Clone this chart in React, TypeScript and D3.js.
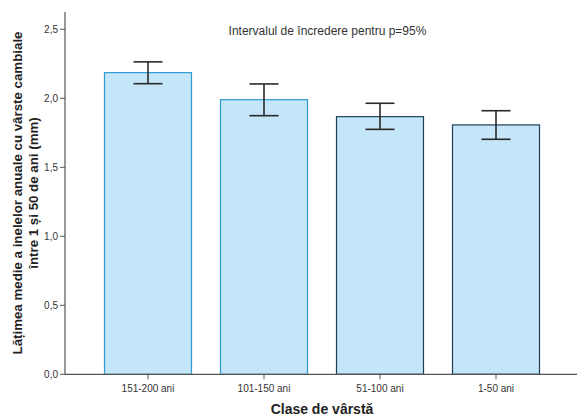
import React from "react";
import * as d3 from "d3";

const categories = ["151-200 ani", "101-150 ani", "51-100 ani", "1-50 ani"];
const means = [2.186, 1.99, 1.867, 1.807];
const ciLow = [2.106, 1.874, 1.775, 1.703];
const ciHigh = [2.264, 2.104, 1.964, 1.91];
const yTicks = [0, 0.5, 1.0, 1.5, 2.0, 2.5];

const barStrokes = ["#2f9bd0", "#2f9bd0", "#1c3f5a", "#1c3f5a"];

const W = 577;
const H = 416;

export default function App() {
  const y = d3.scaleLinear().domain([0, 2.5]).range([374.3, 29.3]);
  const x = d3
    .scaleBand<string>()
    .domain(categories)
    .range([90, 554])
    .paddingInner(0.25)
    .paddingOuter(0.125);
  const fmt = (v: number) => v.toFixed(1).replace(".", ",");
  const font = "'Liberation Sans', Arial, sans-serif";
  const capW = 29;

  return (
    <svg
      width={W}
      height={H}
      style={{ position: "absolute", left: 0, top: 0, background: "#fff" }}
      fontFamily={font}
    >
      {/* bars */}
      {categories.map((c, i) => (
        <rect
          key={c}
          x={x(c)!}
          y={y(means[i])}
          width={x.bandwidth()}
          height={y(0) - y(means[i])}
          fill="#c4e6f8"
          stroke={barStrokes[i]}
          strokeWidth={1.2}
        />
      ))}
      {/* error bars */}
      {categories.map((c, i) => {
        const cx = x(c)! + x.bandwidth() / 2;
        return (
          <g key={c + "e"} stroke="#2a2a2a" strokeWidth={1.6}>
            <line x1={cx} x2={cx} y1={y(ciLow[i])} y2={y(ciHigh[i])} />
            <line x1={cx - capW / 2} x2={cx + capW / 2} y1={y(ciHigh[i])} y2={y(ciHigh[i])} />
            <line x1={cx - capW / 2} x2={cx + capW / 2} y1={y(ciLow[i])} y2={y(ciLow[i])} />
          </g>
        );
      })}
      {/* axes */}
      <line x1={65} x2={65} y1={12} y2={y(0)} stroke="#555" strokeWidth={1.2} />
      <line x1={65} x2={577} y1={y(0)} y2={y(0)} stroke="#555" strokeWidth={1.2} />
      {yTicks.map((t) => (
        <g key={t}>
          <line x1={60} x2={65} y1={y(t)} y2={y(t)} stroke="#555" strokeWidth={1} />
          <text
            x={58}
            y={y(t)}
            dy="0.35em"
            textAnchor="end"
            fontSize={10}
            fill="#333"
          >
            {fmt(t)}
          </text>
        </g>
      ))}
      {categories.map((c) => {
        const cx = x(c)! + x.bandwidth() / 2;
        return (
          <g key={c + "t"}>
            <line x1={cx} x2={cx} y1={y(0)} y2={y(0) + 5} stroke="#555" strokeWidth={1} />
            <text x={cx} y={388.5} dy="0.35em" textAnchor="middle" fontSize={10} fill="#333">
              {c}
            </text>
          </g>
        );
      })}
      {/* titles */}
      <text x={327.5} y={30.5} dy="0.35em" textAnchor="middle" fontSize={12} fill="#333">
        Intervalul de încredere pentru p=95%
      </text>
      <text
        x={322}
        y={409}
        dy="0.35em"
        textAnchor="middle"
        fontSize={14}
        fontWeight="bold"
        fill="#222"
      >
        Clase de vârstă
      </text>
      <g transform="translate(25,193) rotate(-90)">
        <text x={0} y={-8} dy="0.35em" textAnchor="middle" fontSize={13.3} fontWeight="bold" fill="#222">
          Lățimea medie a inelelor anuale cu vârste cambiale
        </text>
        <text x={0} y={8} dy="0.35em" textAnchor="middle" fontSize={13.3} fontWeight="bold" fill="#222">
          între 1 și 50 de ani (mm)
        </text>
      </g>
    </svg>
  );
}
